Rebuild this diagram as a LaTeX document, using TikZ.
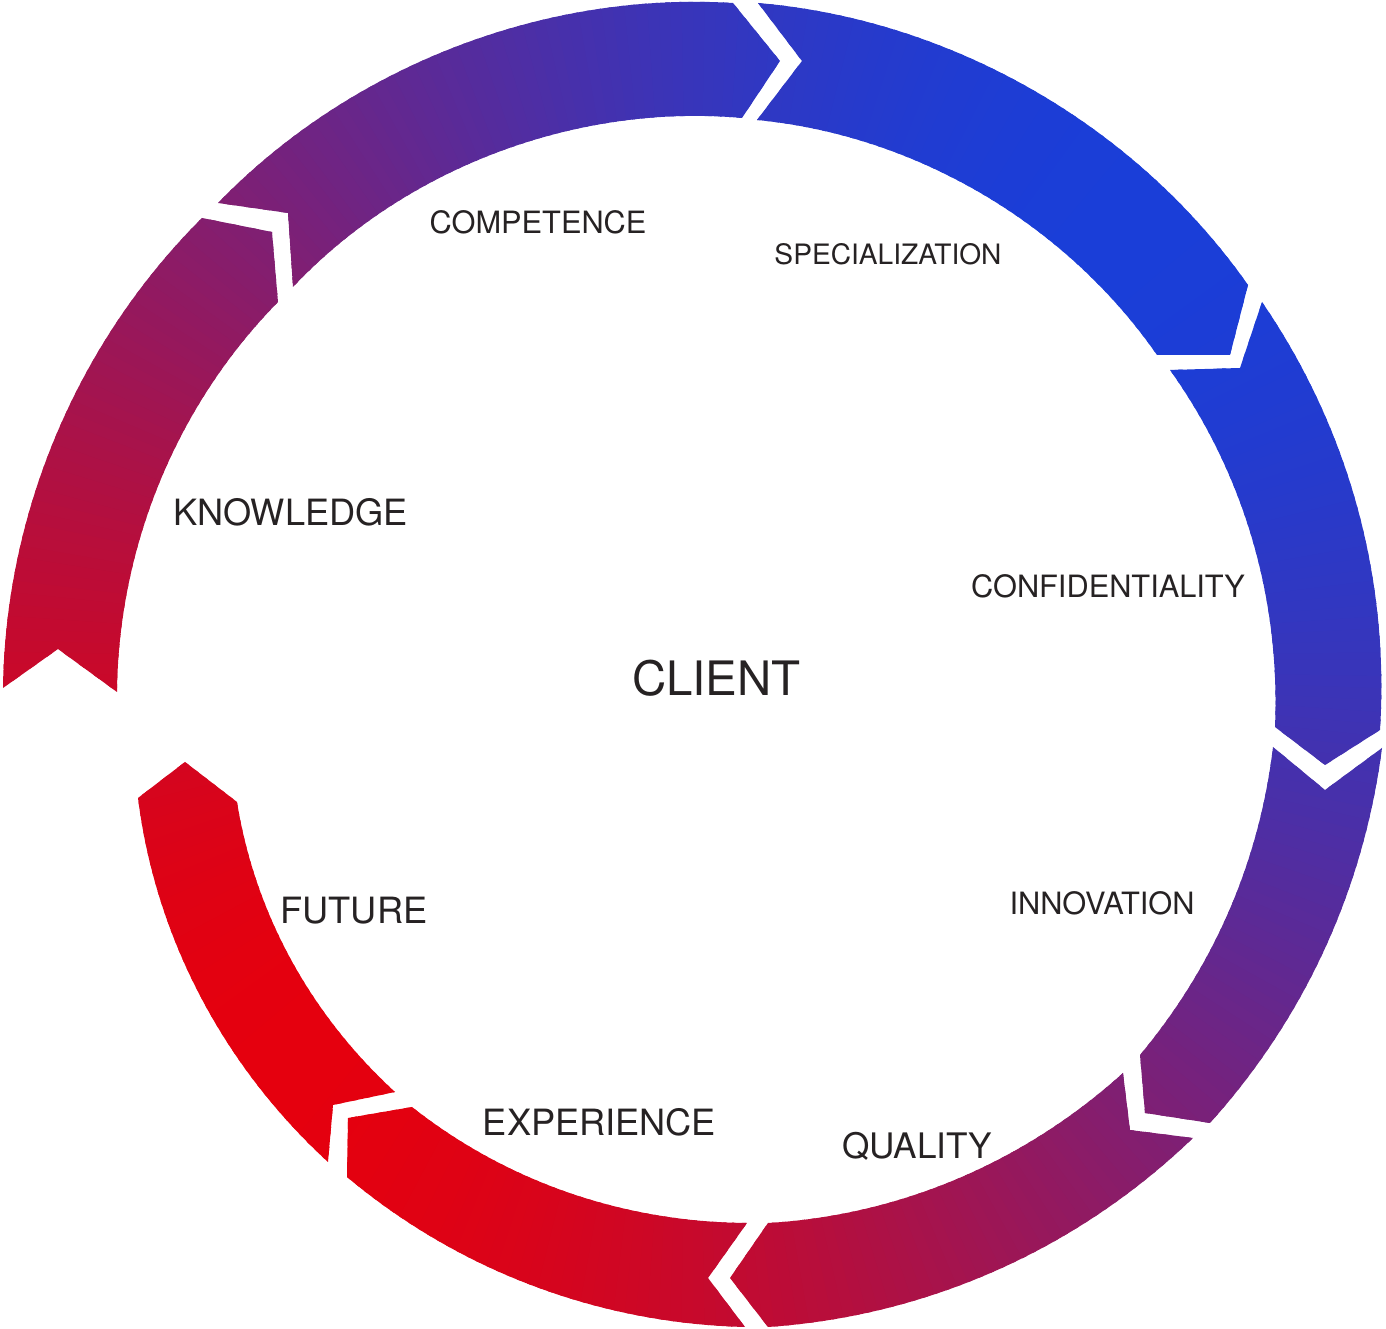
\documentclass[tikz,border=0pt]{standalone}
\usepackage{fontspec}
\setmainfont{TeX Gyre Heros}
\usepackage{tikz}

\definecolor{ringred}{RGB}{229,0,14}
\definecolor{ringblue}{RGB}{26,62,216}
\definecolor{labelgray}{RGB}{38,34,35}

\begin{document}
\begin{tikzpicture}[
    x=0.1mm, y=0.1mm,
    ring label/.style={text=labelgray, inner sep=0pt, anchor=center},
    big label/.style={ring label, font=\fontsize{10.3}{12}\selectfont},
    small label/.style={ring label, font=\fontsize{8.75}{10}\selectfont},
    centre label/.style={ring label, font=\fontsize{13.5}{16}\selectfont}
]
    \useasboundingbox (0,0) rectangle (1386,1329);

    % Centre of the ring
    \coordinate (ctr) at (693,665);

    % The eight arrow pieces as one clip path
    \begin{scope}[looseness=0.88]
        \clip
        % Knowledge
        (3,641) to[out=89.2,in=224.9] (202,1111) -- (272,1097) -- (278,1027)
            to[out=225.5,in=89.4] (117,637) -- (58,680) -- cycle
        % Competence
        (218,1126) to[out=45.9,in=176.5] (733,1326) -- (780,1268) -- (742,1211)
            to[out=174.9,in=46.7] (293,1042) -- (288,1116) -- cycle
        % Specialization
        (758,1326) to[out=-4.9,in=125.1] (1248,1044) -- (1230,974) -- (1157,974)
            to[out=124.8,in=-5.5] (757,1209) -- (802,1268) -- cycle
        % Confidentiality
        (1262,1027) to[out=-55.6,in=86.4] (1380,599) -- (1325,564) -- (1275,602)
            to[out=87.6,in=-54.5] (1170,959) -- (1240,961) -- cycle
        % Innovation
        (1382,581) to[out=-97.4,in=48] (1210,206) -- (1145,216) -- (1140,274)
            to[out=50.2,in=-96.8] (1273,582) -- (1325,539) -- cycle
        % Quality
        (1193,191) to[out=-136.1,in=3.9] (768,2) -- (730,51) -- (768,106)
            to[out=3.3,in=-137.9] (1123,256) -- (1130,199) -- cycle
        % Experience
        (745,2) to[out=178.6,in=-39.9] (347,152) -- (348,211) -- (412,222)
            to[out=321.7,in=179.6] (747,106) -- (708,51) -- cycle
        % Future
        (328,167) to[out=137.4,in=277.2] (138,531) -- (185,567) -- (237,527)
            to[out=279.1,in=137.5] (395,237) -- (333,224) -- cycle;

        % Angular blend: red to the lower left, blue to the upper right
        \foreach \a in {0,...,359}{
            \pgfmathsetmacro{\bluepart}{50*(1+cos(\a+0.5-45))}
            \fill[ringblue!\bluepart!ringred, shift={(ctr)}]
                (0,0) -- (\a:950) -- (\a+1.4:950) -- cycle;
        }
    \end{scope}

    % Labels
    \node[centre label] (client) at (716.5,650.5) {CLIENT};
    \node[small label] (competence) at (538,1107) {COMPETENCE};
    \node[ring label, font=\fontsize{8}{10}\selectfont] (specialization) at (888,1075) {SPECIALIZATION};
    \node[big label] (knowledge) at (290.5,816.5) {KNOWLEDGE};
    \node[small label] (confidentiality) at (1108,743) {CONFIDENTIALITY};
    \node[small label] (innovation) at (1102,425.5) {INNOVATION};
    \node[big label] (future) at (354,418.5) {FUTURE};
    \node[big label] (experience) at (599.5,206.5) {EXPERIENCE};
    \node[ring label, font=\fontsize{10}{12}\selectfont] (quality) at (917,183) {QUALITY};
\end{tikzpicture}
\end{document}
